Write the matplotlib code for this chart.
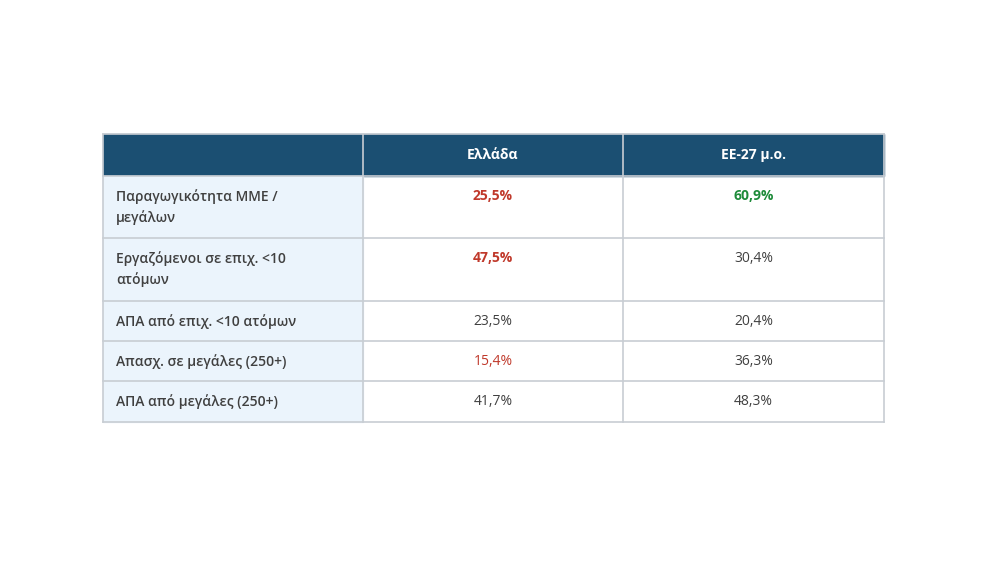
import matplotlib
matplotlib.use('Agg')
import matplotlib.pyplot as plt
from matplotlib.patches import Rectangle

plt.rcParams['font.family'] = ['Open Sans', 'DejaVu Sans']

headers = ['', 'Ελλάδα', 'ΕΕ-27 μ.ο.']
row_labels = ['Παραγωγικότητα ΜΜΕ /\nμεγάλων', 'Εργαζόμενοι σε επιχ. <10\nατόμων',
              'ΑΠΑ από επιχ. <10 ατόμων', 'Απασχ. σε μεγάλες (250+)', 'ΑΠΑ από μεγάλες (250+)']
greece = ['25,5%', '47,5%', '23,5%', '15,4%', '41,7%']
eu27 = ['60,9%', '30,4%', '20,4%', '36,3%', '48,3%']
# (colour, bold) per value
greece_style = [('#C0392B', True), ('#C0392B', True), ('#404040', False), ('#C0392B', False), ('#404040', False)]
eu27_style = [('#1E8B3A', True), ('#404040', False), ('#404040', False), ('#404040', False), ('#404040', False)]

fig = plt.figure(figsize=(10, 5.63), dpi=100)
ax = fig.add_axes([0, 0, 1, 1])
ax.set_xlim(0, 1000)
ax.set_ylim(563, 0)
ax.axis('off')

col_x = [103, 363, 623, 884]
row_y = [134, 176, 238, 301, 341, 381, 422]
border = '#C8CDD3'
dark = '#1B4F72'
light = '#EBF4FC'

# header
ax.add_patch(Rectangle((col_x[0], row_y[0]), col_x[3] - col_x[0], row_y[1] - row_y[0], color=dark, zorder=1))
for j in range(1, 3):
    ax.text((col_x[j] + col_x[j + 1]) / 2, (row_y[0] + row_y[1]) / 2, headers[j], color='white',
            fontsize=10, fontweight='bold', ha='center', va='center', zorder=3)

for i in range(5):
    y0, y1 = row_y[i + 1], row_y[i + 2]
    ax.add_patch(Rectangle((col_x[0], y0), col_x[1] - col_x[0], y1 - y0, color=light, zorder=1))
    ax.text(col_x[0] + 13, y0 + 13, row_labels[i], color='#404040', fontsize=10, fontweight='semibold',
            ha='left', va='top', linespacing=1.5, zorder=3)
    for j, (vals, st) in enumerate([(greece, greece_style), (eu27, eu27_style)]):
        c, b = st[i]
        ax.text((col_x[j + 1] + col_x[j + 2]) / 2, y0 + 13, vals[i], color=c, fontsize=10,
                fontweight='bold' if b else 'normal', ha='center', va='top', zorder=3)

# grid lines
for y in row_y:
    ax.plot([col_x[0], col_x[3]], [y, y], color=border, lw=1.2, zorder=2)
for x in col_x:
    ax.plot([x, x], [row_y[0], row_y[-1]], color=border, lw=1.2, zorder=2)

fig.savefig('out.png', dpi=100, facecolor='white')
